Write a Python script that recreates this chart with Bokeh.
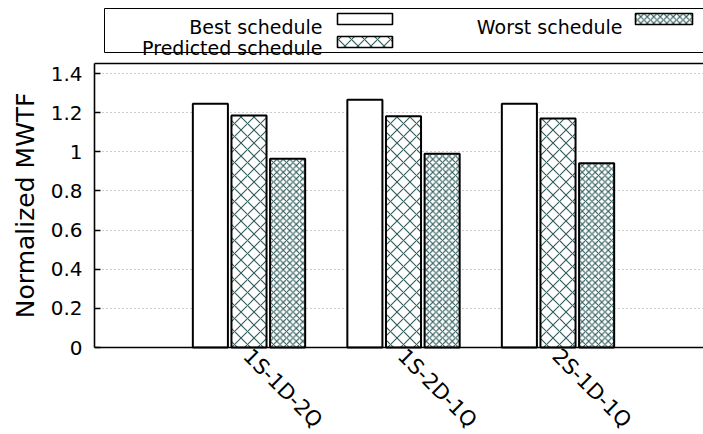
import math

from bokeh.core.properties import value
from bokeh.embed import file_html
from bokeh.layouts import column
from bokeh.models import (ColumnDataSource, CustomJSTickFormatter, FixedTicker,
                          LinearAxis, Range1d, Title)
from bokeh.plotting import figure
from bokeh.resources import INLINE
from bokeh.transform import dodge

# ---- data -----------------------------------------------------------------
configs = ["1S-1D-2Q", "1S-2D-1Q", "2S-1D-1Q"]
best = [1.245, 1.266, 1.245]
predicted = [1.185, 1.182, 1.170]
worst = [0.964, 0.990, 0.942]
series_names = ["Best schedule", "Predicted schedule", "Worst schedule"]
y_ticks = [0, 0.2, 0.4, 0.6, 0.8, 1.0, 1.2, 1.4]
y_tick_labels = ["0", "0.2", "0.4", "0.6", "0.8", "1", "1.2", "1.4"]
y_title = "Normalized MWTF"

FONT = "DejaVu Sans"
HATCH = "#2f5c5c"
x_pos = [i + 1 for i in range(len(configs))]

PX_PER_UNIT = 195.7          # vertical scale of the chart
Y_END = 284 / PX_PER_UNIT    # top of the plotting area
Y_START = -87 / PX_PER_UNIT  # room under the zero line for the category names

src = ColumnDataSource(dict(x=x_pos, best=best, predicted=predicted, worst=worst))
x_range = Range1d(0, 609 / 154.5)

# ---- key strip (pixel-like coordinates; its frame lines up with the chart's) --
leg = figure(width=703, height=58, x_range=Range1d(94, 703), y_range=Range1d(58, 0),
             toolbar_location=None, output_backend="svg",
             min_border_left=94, min_border_right=0, min_border_top=0, min_border_bottom=0,
             x_axis_location=None, y_axis_location=None)
leg.grid.visible = False
leg.outline_line_color = None

leg.quad(left=[104], right=[712], top=[8], bottom=[52],
         fill_color=None, line_color="black", line_width=1)

key_text_x = [322, 322, 622]
key_text_y = [26, 47.5, 26]
key_left = [337, 337, 635]
key_right = [392, 392, 692]
key_top = [13, 36, 13]
key_bottom = [24, 47, 24]
key_scale = [None, 13, 6.5]

for i, name in enumerate(series_names):
    leg.text(x=[key_text_x[i]], y=[key_text_y[i]], text=[name],
             text_font=value(FONT), text_font_size="19px", text_align="right",
             text_baseline="alphabetic", text_color="black")
    kw = dict(left=[key_left[i]], right=[key_right[i]], top=[key_top[i]], bottom=[key_bottom[i]],
              fill_color="white", line_color="black", line_width=1.6)
    if key_scale[i] is not None:
        kw.update(hatch_pattern="diagonal_cross", hatch_color=HATCH,
                  hatch_scale=key_scale[i], hatch_weight=1.1)
    leg.quad(**kw)

# ---- bar chart -------------------------------------------------------------
p = figure(width=703, height=376,
           x_range=x_range, y_range=Range1d(Y_START, Y_END),
           toolbar_location=None, output_backend="svg", x_axis_location=None,
           min_border_left=94, min_border_right=0, min_border_top=5, min_border_bottom=0)
p.outline_line_color = None
p.background_fill_color = "white"
p.border_fill_color = "white"

bar_w = 0.227
common = dict(source=src, width=bar_w, line_color="black", line_width=2, fill_color="white")
p.vbar(x=dodge("x", -0.25, range=x_range), top="best", **common)
p.vbar(x=dodge("x", 0.0, range=x_range), top="predicted",
       hatch_pattern="diagonal_cross", hatch_color=HATCH, hatch_scale=13, hatch_weight=1.1, **common)
p.vbar(x=dodge("x", 0.25, range=x_range), top="worst",
       hatch_pattern="diagonal_cross", hatch_color=HATCH, hatch_scale=6.5, hatch_weight=1.1, **common)

lookup = """
const i = vals.findIndex(v => Math.abs(v - tick) < 1e-9);
return i >= 0 ? labs[i] : '';
"""

# y axis, running from the zero line up to the top border
p.yaxis.ticker = FixedTicker(ticks=y_ticks)
p.yaxis.bounds = (0, Y_END)
p.yaxis.formatter = CustomJSTickFormatter(args=dict(vals=y_ticks, labs=y_tick_labels), code=lookup)
p.yaxis.major_tick_in = 6
p.yaxis.major_tick_out = 0
p.yaxis.major_tick_line_width = 1.6
p.yaxis.major_label_standoff = 12
p.yaxis.major_label_text_font = FONT
p.yaxis.major_label_text_font_size = "20px"
p.yaxis.major_label_text_color = "black"
p.yaxis.minor_tick_line_color = None
p.yaxis.axis_line_color = "black"
p.yaxis.axis_line_width = 1.6

# y title: its upper end is pinned just below the top border so that it sits
# centred on the 0..top span rather than on the whole frame
p.add_layout(Title(text=y_title, align="right", offset=29,
                   text_font=FONT, text_font_size="25px", text_font_style="normal",
                   text_color="black", standoff=16), "left")

# x axis line sitting on zero
bare = dict(ticker=FixedTicker(ticks=[]), axis_line_color="black", axis_line_width=1.6,
            major_tick_line_color=None, minor_tick_line_color=None,
            major_tick_in=0, major_tick_out=0, major_label_standoff=0)
p.add_layout(LinearAxis(fixed_location=0, **bare), "below")
# upper border of the plotting area
p.add_layout(LinearAxis(**bare), "above")

p.xgrid.visible = False
p.ygrid.grid_line_color = "#9a9a9a"
p.ygrid.grid_line_dash = "1 3"
p.ygrid.grid_line_width = 1

# slanted category names under the zero line, placed through the chart's scales
p.text(x=x_pos, y=[-5 / PX_PER_UNIT] * len(x_pos), text=configs, angle=-math.pi / 4,
       x_offset=-2, text_font=value(FONT), text_font_size="21px",
       text_align="left", text_baseline="middle", text_color="black")

layout = column(leg, p, spacing=0)
open("out.html", "w").write(file_html(layout, INLINE))
